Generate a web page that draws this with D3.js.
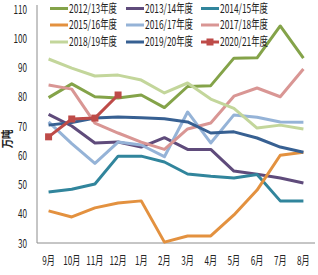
<!DOCTYPE html>
<html><head><meta charset="utf-8">
<script src="https://cdn.jsdelivr.net/npm/d3@7"></script>
<style>
body{margin:0;background:#fff;}
svg{display:block;}
text{font-family:"Noto Sans CJK SC","Noto Sans",sans-serif;fill:#222;}
</style></head>
<body><svg id="c" width="318" height="275"></svg>
<script>
const months = ["9月","10月","11月","12月","1月","2月","3月","4月","5月","6月","7月","8月"];
const yTicks = [30,40,50,60,70,80,90,100,110];
const seriesNames = ["2012/13年度","2013/14年度","2014/15年度","2015/16年度","2016/17年度","2017/18年度","2018/19年度","2019/20年度","2020/21年度"];
const s1213 = [79.7, 84.4, 80, 79.6, 80.6, 76.3, 83.5, 83.8, 93.2, 93.3, 104.2, 93.2];
const s1314 = [74, 70, 64.2, 64.5, 62.8, 66, 62, 62, 54.6, 53.5, 52.2, 50.5];
const s1415 = [47.4, 48.4, 50.2, 59.7, 59.7, 57.7, 53.6, 52.8, 52.2, 53.4, 44.4, 44.4];
const s1516 = [41, 38.9, 42, 43.7, 44.4, 30.3, 32.4, 32.4, 39.6, 48.1, 60, 61];
const s1617 = [71.4, 64, 57.2, 64.5, 63.5, 59.5, 74.8, 64.2, 73.8, 73, 71.4, 71.3];
const s1718 = [84, 82.6, 71, 67.6, 64.5, 62, 69, 71, 80.2, 83, 80, 89.5];
const s1819 = [92.9, 89.8, 87.1, 87.4, 85.7, 81.3, 84.7, 79.2, 76, 69.3, 70.3, 69];
const s1920 = [70.3, 71.2, 72.7, 73.1, 72.8, 72.5, 71.4, 67.6, 68, 65.9, 62.8, 61];
const s2021 = [66.3, 72.4, 72.7, 80.6];
const seriesValues = [s1213, s1314, s1415, s1516, s1617, s1718, s1819, s1920, s2021];
const colors = ["#84a349","#5f4b7b","#31859c","#e3913f","#95b3d7","#d99694","#c3d69b","#376092","#be4b48"];
const yTitle = "万吨";

const svg = d3.select("#c");
const pLeft = 37, pRight = 315, pTop = 9, pBottom = 243;
const SX = 0.68;

const x = d3.scaleBand().domain(months).range([pLeft, pRight]);
const y = d3.scaleLinear().domain([30, 110]).range([pBottom, pTop]);
const cx = m => x(m) + x.bandwidth() / 2;

// axes
const gy = svg.append("g").attr("transform", `translate(${pLeft},0)`)
  .call(d3.axisLeft(y).tickValues(yTicks).tickSize(0).tickPadding(0));
gy.select(".domain").attr("stroke", "#8c8c8c").attr("d", `M0,${pTop - 4}V${pBottom}`);
gy.selectAll("text").attr("x", 0).attr("dy", "0.34em")
  .attr("transform", `translate(-10,0) scale(${SX},1)`)
  .style("font-size", "12px").style("font-family", '"Noto Sans CJK SC",sans-serif').attr("fill", "#222");

const gx = svg.append("g").attr("transform", `translate(0,${pBottom})`)
  .call(d3.axisBottom(x).tickSize(0).tickPadding(0));
gx.select(".domain").attr("stroke", "#8c8c8c").attr("d", `M${pLeft},0H${pRight}`);
gx.selectAll("text").attr("y", 0).attr("dy", 0)
  .attr("transform", `translate(0,22) scale(${SX},1)`)
  .style("font-size", "12px").style("font-family", '"Noto Sans CJK SC",sans-serif').attr("fill", "#222");

// y title
svg.append("text").attr("transform", `translate(12,139) rotate(-90) scale(${SX + 0.1},1)`)
  .attr("text-anchor", "middle").style("font-size", "12px").style("font-weight", "bold").text(yTitle);

// lines
const line = d3.line().x((d, i) => cx(months[i])).y(d => y(d));
seriesValues.forEach((vals, k) => {
  svg.append("path").datum(vals).attr("d", line)
    .attr("fill", "none").attr("stroke", colors[k]).attr("stroke-width", 3)
    .attr("stroke-linejoin", "round");
});
// markers for last series
svg.selectAll("rect.mk").data(s2021).enter().append("rect").attr("class", "mk")
  .attr("x", (d, i) => cx(months[i]) - 3.5).attr("y", d => y(d) - 3.5)
  .attr("width", 7).attr("height", 7).attr("fill", colors[8]);

// legend
const colX = [50, 126, 201], rowY = [8.5, 25, 42];
seriesNames.forEach((name, k) => {
  const lx = colX[k % 3], ly = rowY[Math.floor(k / 3)];
  const g = svg.append("g").attr("transform", `translate(${lx},${ly})`);
  g.append("line").attr("x1", 0).attr("x2", 18).attr("y1", 0).attr("y2", 0)
    .attr("stroke", colors[k]).attr("stroke-width", 3);
  if (k === 8) g.append("rect").attr("x", 5.5).attr("y", -3.5).attr("width", 7).attr("height", 7).attr("fill", colors[k]);
  g.append("text").attr("transform", `translate(19,0) scale(0.7,1)`).attr("dy", "0.35em")
    .style("font-size", "12px").text(name);
});
</script></body></html>
